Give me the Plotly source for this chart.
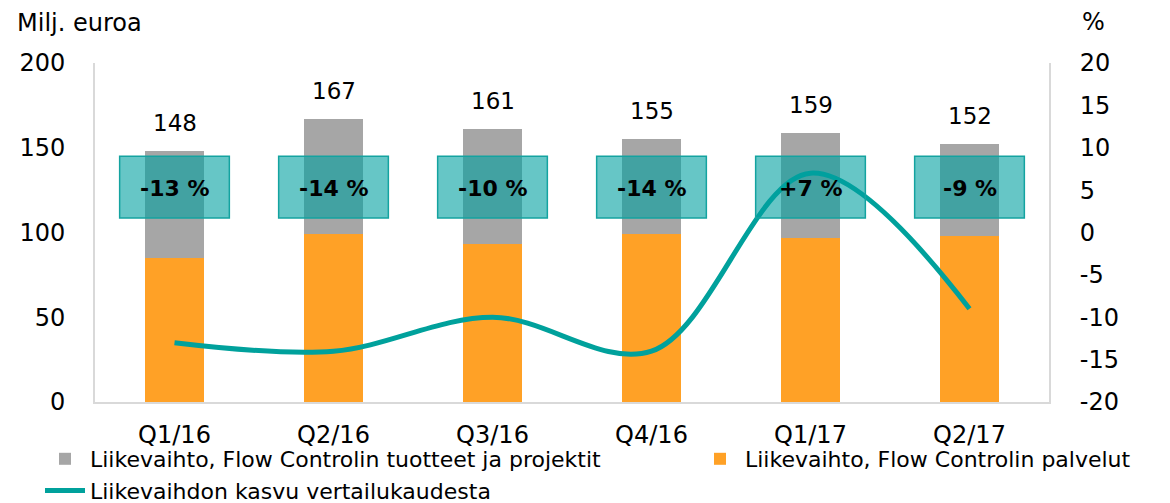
import plotly.graph_objects as go

categories = ["Q1/16", "Q2/16", "Q3/16", "Q4/16", "Q1/17", "Q2/17"]
totals = [148, 167, 161, 155, 159, 152]
services = [85, 99, 93, 99, 97, 98]
products = [63, 68, 68, 56, 62, 54]
growth = [-13, -14, -10, -14, 7, -9]
growth_labels = ["-13 %", "-14 %", "-10 %", "-14 %", "+7 %", "-9 %"]
right_ticks = [-20, -15, -10, -5, 0, 5, 10, 15, 20]
right_tick_labels = ["-20", "-15", "-10", "-5", "0", "5", "10", "15", "20"]

name_products = "Liikevaihto, Flow Controlin tuotteet ja projektit"
name_services = "Liikevaihto, Flow Controlin palvelut"
name_growth = "Liikevaihdon kasvu vertailukaudesta"

FONT = "DejaVu Sans"
GRAY = "#A6A6A6"
ORANGE = "#FFA126"
TEAL = "#00A19C"
AXIS = "#D9D9D9"

W, H = 1170, 503
L, R, T, B = 95, 121, 63, 101

fig = go.Figure()
fig.add_trace(go.Bar(x=categories, y=services, name=name_services, marker_color=ORANGE,
                     marker_line_width=0, legend="legend2"))
fig.add_trace(go.Bar(x=categories, y=products, name=name_products, marker_color=GRAY,
                     marker_line_width=0, legendrank=1))
fig.add_trace(go.Scatter(x=categories, y=growth, name=name_growth, yaxis="y2", mode="lines",
                         line=dict(color=TEAL, width=5, shape="spline", smoothing=1.0),
                         legendrank=2))

shapes = []
annotations = []
for i, (c, t, g) in enumerate(zip(categories, totals, growth_labels)):
    shapes.append(dict(type="rect", xref="x", yref="y2", x0=i - 0.345, x1=i + 0.345, y0=1.7, y1=9.0,
                       fillcolor="rgba(0,160,160,0.6)", line=dict(color="#14A3A0", width=1.5),
                       layer="above"))
    annotations.append(dict(x=c, y=5.2, xref="x", yref="y2", text="<b>" + g + "</b>", showarrow=False,
                            font=dict(family=FONT, size=22, color="#000000")))
    annotations.append(dict(x=c, y=t, xref="x", yref="y", text=str(t), showarrow=False,
                            yanchor="bottom", yshift=13,
                            font=dict(family=FONT, size=23, color="#000000")))

for txt, px, py, anchor in [("Milj. euroa", 15, 23, "left"), ("%", 1093, 22, "center")]:
    annotations.append(dict(x=(px - L) / (W - L - R), y=(H - py - B) / (H - T - B), xref="paper",
                            yref="paper", text=txt, showarrow=False, xanchor=anchor, yanchor="middle",
                            font=dict(family=FONT, size=24, color="#000")))

legend_common = dict(orientation="v", xref="container", yref="container", xanchor="left",
                     yanchor="top", font=dict(family=FONT, size=22), itemwidth=40,
                     tracegroupgap=0, traceorder="normal", bgcolor="rgba(0,0,0,0)")

fig.update_layout(
    width=W, height=H,
    barmode="stack", bargap=0.635,
    plot_bgcolor="white", paper_bgcolor="white",
    margin=dict(l=L, r=R, t=T, b=B, autoexpand=False),
    font=dict(family=FONT, size=23, color="#000000"),
    xaxis=dict(type="category", range=[-0.5, 5.5], showline=True, linecolor=AXIS, linewidth=2,
               showgrid=False, ticks="", ticklabelstandoff=10, tickfont=dict(size=24), automargin=False),
    yaxis=dict(range=[0, 200], dtick=50, showline=True, linecolor=AXIS, linewidth=2, showgrid=False,
               zeroline=False, ticks="", ticklabelstandoff=23, tickfont=dict(size=24), automargin=False),
    yaxis2=dict(range=[-20, 20], tickvals=right_ticks, ticktext=right_tick_labels, overlaying="y",
                side="right", showline=True, linecolor=AXIS, linewidth=2, showgrid=False,
                zeroline=False, ticks="", ticklabelstandoff=24, tickfont=dict(size=24), automargin=False),
    legend=dict(x=40 / W, y=(H - 438) / H, **legend_common),
    legend2=dict(x=695 / W, y=(H - 438) / H, **legend_common),
    shapes=shapes, annotations=annotations,
)

fig.write_html("out.html", config={"displayModeBar": False},
               post_script="document.body.style.margin='0';document.body.style.overflow='hidden';")
